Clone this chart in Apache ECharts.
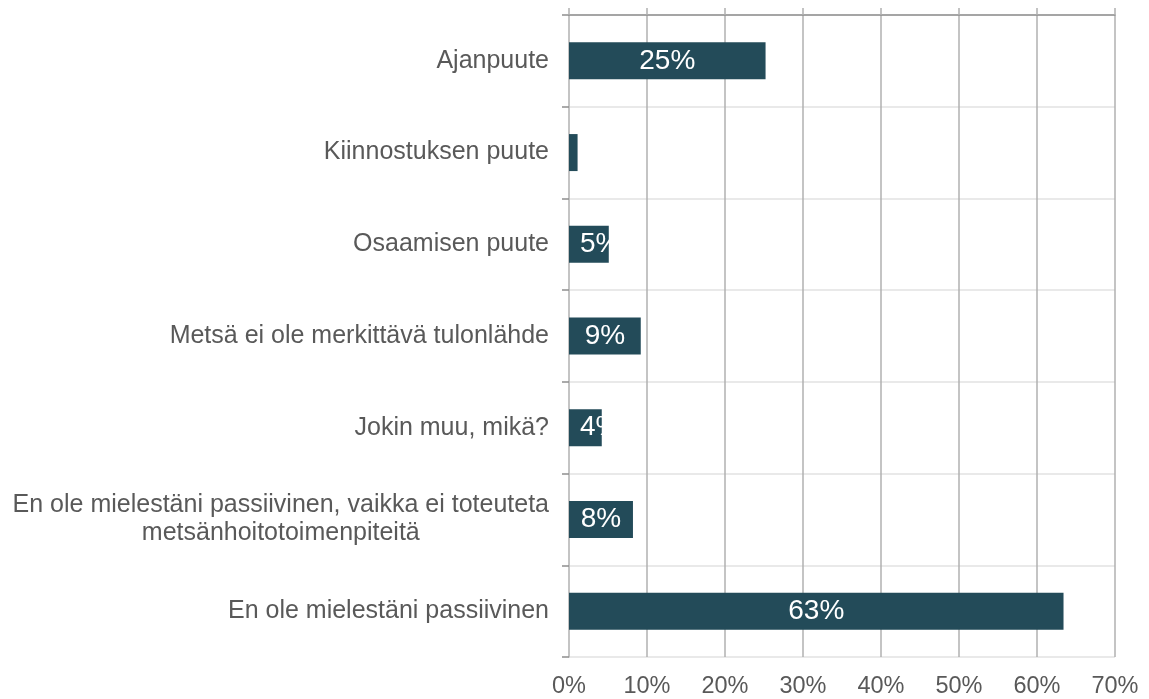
<!DOCTYPE html>
<html>
<head>
<meta charset="utf-8">
<script src="https://cdn.jsdelivr.net/npm/echarts@6/dist/echarts.min.js"></script>
<style>
  html, body { margin: 0; padding: 0; background: #fff; }
  #chart { width: 1149px; height: 699px; }
</style>
</head>
<body>
<div id="chart"></div>
<script>
const categories = [
  'Ajanpuute',
  'Kiinnostuksen puute',
  'Osaamisen puute',
  'Metsä ei ole merkittävä tulonlähde',
  'Jokin muu, mikä?',
  'En ole mielestäni passiivinen, vaikka ei toteuteta\nmetsänhoitotoimenpiteitä',
  'En ole mielestäni passiivinen'
];
const values = [25.2, 1.1, 5.1, 9.2, 4.2, 8.2, 63.4];
const xTicks = { min: 0, max: 70, interval: 10 };

const textGray = '#595959';
const font = '"Liberation Sans", Arial, sans-serif';

const chart = echarts.init(document.getElementById('chart'));

// narrow bars: label starts near the bar's left edge, overflow is white on white
const barData = values.map(function (v) {
  if (v < 6) {
    return { value: v, label: { position: 'insideLeft', distance: 11 } };
  }
  return v;
});

chart.setOption({
  animation: false,
  textStyle: { fontFamily: font },
  grid: { left: 569, right: 34, top: 15, bottom: 41 },
  xAxis: [
    {
      type: 'value',
      position: 'bottom',
      min: xTicks.min, max: xTicks.max, interval: xTicks.interval,
      axisLine: { show: false },
      axisTick: { show: false },
      axisLabel: {
        formatter: '{value}%',
        color: textGray,
        fontSize: 23.5,
        fontFamily: font,
        margin: 18
      },
      splitLine: { show: true, lineStyle: { color: '#b0b0b0', width: 1.5 } }
    },
    {
      type: 'value',
      position: 'top',
      min: xTicks.min, max: xTicks.max, interval: xTicks.interval,
      axisLine: { show: true, lineStyle: { color: '#8e8e8e', width: 1.5 } },
      axisTick: { show: true, length: 7, lineStyle: { color: '#b0b0b0', width: 1.5 } },
      axisLabel: { show: false },
      splitLine: { show: false }
    }
  ],
  yAxis: {
    type: 'category',
    inverse: true,
    data: categories,
    axisLine: { show: true, lineStyle: { color: '#c4c4c4', width: 1.5 } },
    axisTick: { show: true, length: 7, lineStyle: { color: '#8e8e8e', width: 1.5 } },
    axisLabel: {
      color: textGray,
      fontSize: 25,
      fontFamily: font,
      margin: 20,
      lineHeight: 28,
      formatter: function (v) {
        return v.split('\n').map(function (l) { return '{c|' + l + '}'; }).join('\n');
      },
      rich: {
        c: { align: 'center', color: textGray, fontSize: 25, fontFamily: font, lineHeight: 28 }
      }
    },
    splitLine: { show: true, lineStyle: { color: '#e2e2e2', width: 1.5 } }
  },
  series: [
    {
      type: 'bar',
      xAxisIndex: 0,
      data: barData,
      barWidth: 37,
      itemStyle: { color: '#234b59' },
      label: {
        show: true,
        position: 'inside',
        color: '#ffffff',
        fontSize: 28,
        fontFamily: font,
        formatter: function (p) {
          return p.value >= 2 ? Math.round(p.value) + '%' : '';
        }
      }
    }
  ]
});
</script>
</body>
</html>
